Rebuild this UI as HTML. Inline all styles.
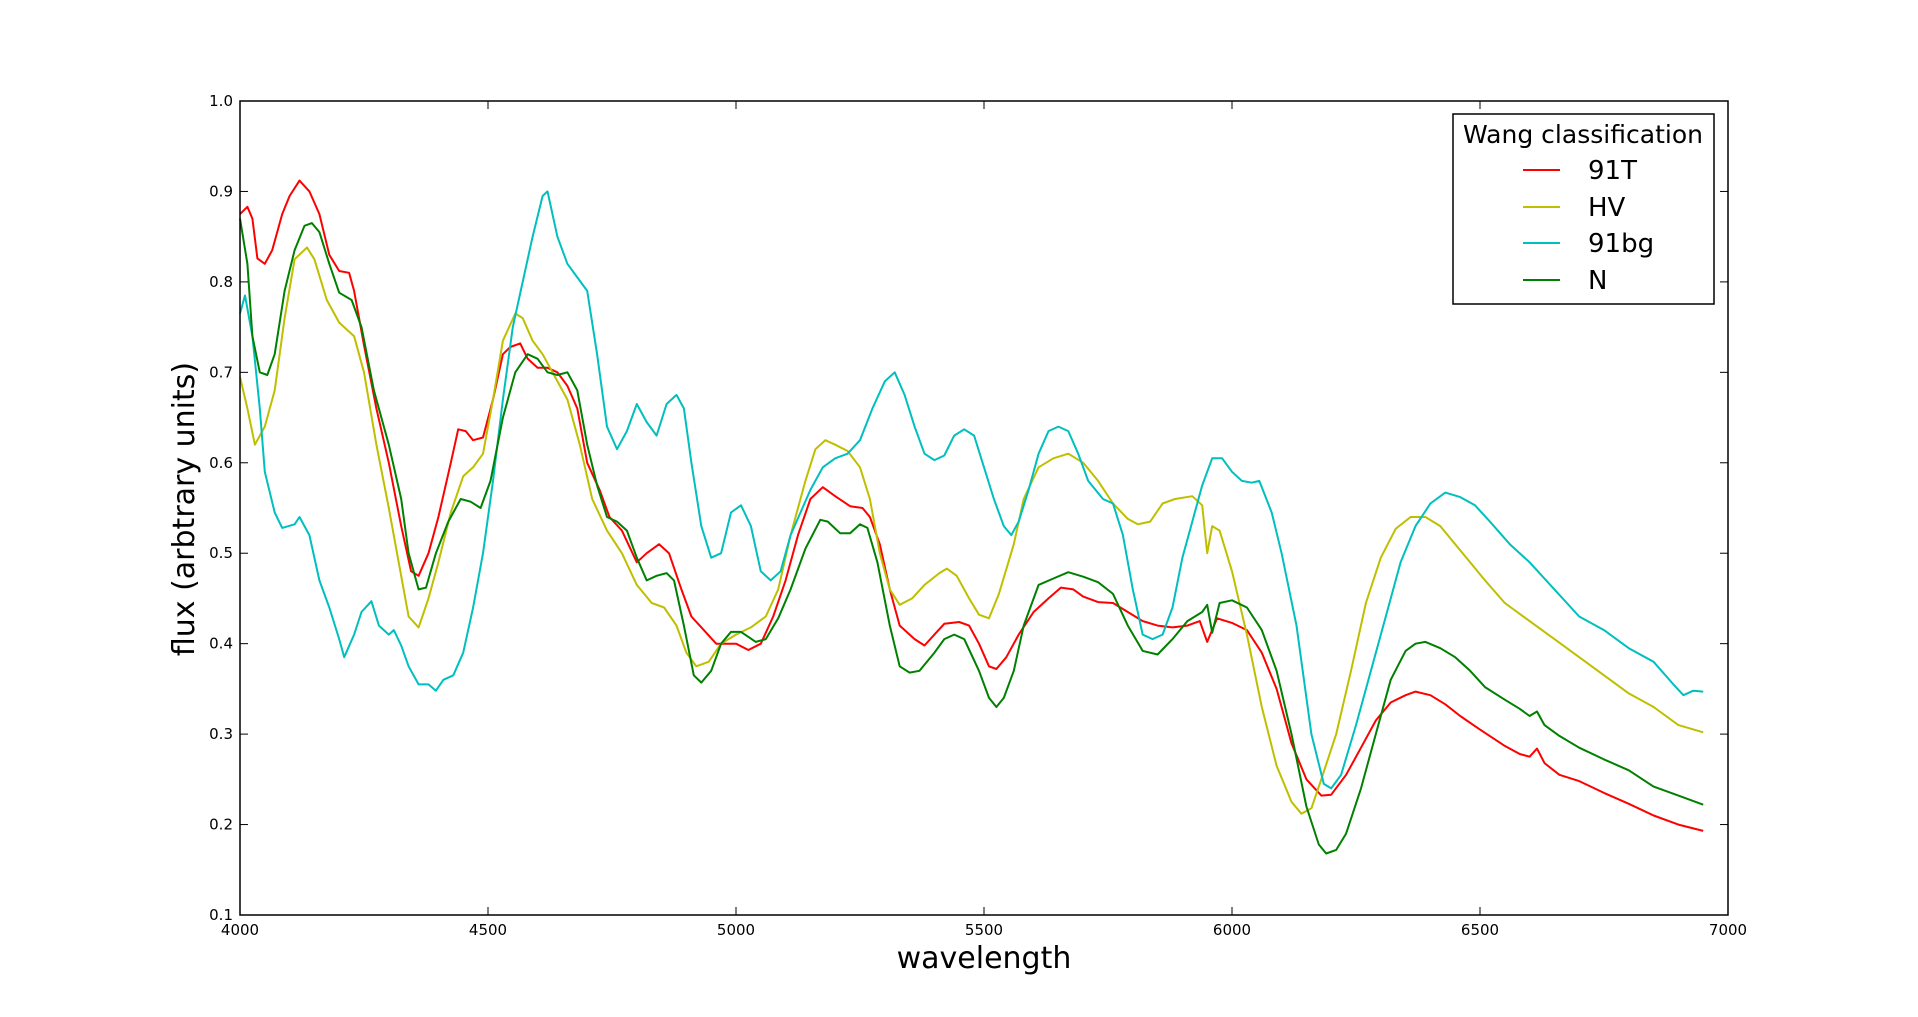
<!DOCTYPE html>
<html><head><meta charset="utf-8"><style>
html,body{margin:0;padding:0;background:#fff;}
svg{display:block;font-family:"DejaVu Sans","Liberation Sans",sans-serif;}
</style></head><body>
<svg id="chart" width="1918" height="1017" viewBox="0 0 1918 1017" xmlns="http://www.w3.org/2000/svg">
<rect x="0" y="0" width="1918" height="1017" fill="#fff"/>
<g id="marks"></g>
<g id="axes"></g>
<text x="984" y="968" font-size="30" text-anchor="middle">wavelength</text>
<text x="0" y="0" font-size="30" text-anchor="middle" transform="translate(194,509) rotate(-90)">flux (arbtrary units)</text>
<g>
<rect x="1453" y="114" width="261" height="190" fill="#fff" stroke="#000" stroke-width="1.5"/>
<text x="1463" y="143" font-size="25" textLength="240" lengthAdjust="spacingAndGlyphs">Wang classification</text>
<line x1="1523" y1="170" x2="1560" y2="170" stroke="#ff0000" stroke-width="2"/>
<text x="1588" y="179" font-size="26">91T</text>
<line x1="1523" y1="207" x2="1560" y2="207" stroke="#bfbf00" stroke-width="2"/>
<text x="1588" y="216" font-size="26">HV</text>
<line x1="1523" y1="243" x2="1560" y2="243" stroke="#00bfbf" stroke-width="2"/>
<text x="1588" y="252" font-size="26">91bg</text>
<line x1="1523" y1="280" x2="1560" y2="280" stroke="#008000" stroke-width="2"/>
<text x="1588" y="289" font-size="26">N</text>
</g>
</svg>
<script>
const xTicks = [4000,4500,5000,5500,6000,6500,7000];
const yTicks = [0.1,0.2,0.3,0.4,0.5,0.6,0.7,0.8,0.9,1.0];
const yTickLabels = ["0.1","0.2","0.3","0.4","0.5","0.6","0.7","0.8","0.9","1.0"];
const wl91T = [4000,4015,4025,4035,4050,4065,4085,4100,4120,4140,4160,4180,4200,4220,4230,4250,4275,4300,4325,4345,4360,4380,4400,4425,4440,4455,4470,4490,4510,4530,4545,4565,4580,4600,4620,4640,4660,4680,4700,4725,4745,4770,4800,4820,4845,4865,4890,4910,4935,4960,4985,5000,5025,5050,5075,5100,5125,5150,5175,5200,5230,5255,5270,5290,5310,5330,5360,5380,5400,5420,5450,5470,5490,5510,5525,5545,5570,5600,5630,5655,5680,5700,5730,5760,5790,5820,5850,5880,5910,5935,5950,5970,6000,6030,6060,6090,6120,6150,6180,6200,6230,6260,6290,6320,6350,6370,6400,6430,6460,6500,6550,6580,6600,6615,6630,6660,6700,6750,6800,6850,6900,6950];
const flux91T = [0.875,0.883,0.87,0.826,0.82,0.835,0.875,0.895,0.912,0.9,0.875,0.83,0.812,0.81,0.79,0.73,0.66,0.6,0.53,0.48,0.475,0.5,0.54,0.6,0.637,0.635,0.625,0.628,0.67,0.72,0.728,0.732,0.715,0.705,0.705,0.70,0.685,0.66,0.6,0.57,0.54,0.525,0.49,0.5,0.51,0.5,0.46,0.43,0.415,0.40,0.40,0.40,0.393,0.40,0.43,0.47,0.52,0.56,0.573,0.563,0.552,0.55,0.54,0.51,0.46,0.42,0.405,0.398,0.41,0.422,0.424,0.42,0.40,0.375,0.372,0.385,0.41,0.435,0.45,0.462,0.46,0.452,0.446,0.445,0.435,0.425,0.42,0.418,0.42,0.425,0.402,0.428,0.423,0.415,0.39,0.35,0.29,0.25,0.232,0.233,0.255,0.285,0.315,0.335,0.343,0.347,0.343,0.333,0.32,0.305,0.287,0.278,0.275,0.284,0.268,0.255,0.248,0.235,0.223,0.21,0.2,0.193];
const wlHV = [4000,4015,4030,4050,4070,4090,4110,4135,4150,4175,4200,4230,4250,4275,4300,4320,4340,4360,4380,4400,4425,4450,4470,4490,4510,4530,4555,4570,4590,4610,4630,4660,4685,4710,4740,4770,4800,4830,4855,4880,4900,4920,4945,4970,5000,5030,5060,5085,5110,5140,5160,5180,5200,5225,5250,5270,5290,5310,5330,5355,5380,5410,5425,5445,5470,5490,5510,5530,5560,5580,5610,5640,5670,5700,5730,5760,5790,5810,5835,5860,5885,5920,5940,5950,5960,5975,6000,6030,6060,6090,6120,6140,6160,6180,6210,6240,6270,6300,6330,6360,6390,6420,6450,6480,6510,6550,6600,6650,6700,6750,6800,6850,6900,6950];
const fluxHV = [0.695,0.66,0.62,0.64,0.68,0.76,0.825,0.838,0.825,0.78,0.755,0.74,0.7,0.62,0.55,0.49,0.43,0.418,0.45,0.49,0.545,0.585,0.595,0.61,0.67,0.735,0.765,0.76,0.735,0.72,0.70,0.67,0.62,0.56,0.525,0.5,0.465,0.445,0.44,0.42,0.39,0.375,0.38,0.4,0.41,0.418,0.43,0.46,0.52,0.58,0.615,0.625,0.62,0.613,0.595,0.56,0.5,0.46,0.443,0.45,0.465,0.478,0.483,0.475,0.45,0.432,0.428,0.455,0.51,0.56,0.595,0.605,0.61,0.6,0.58,0.555,0.538,0.532,0.535,0.555,0.56,0.563,0.553,0.5,0.53,0.525,0.48,0.41,0.33,0.265,0.225,0.212,0.218,0.25,0.3,0.37,0.445,0.495,0.527,0.54,0.54,0.53,0.51,0.49,0.47,0.445,0.425,0.405,0.385,0.365,0.345,0.33,0.31,0.302];
const wl91bg = [4000,4010,4025,4040,4050,4070,4085,4110,4120,4140,4160,4180,4200,4210,4230,4245,4265,4280,4300,4310,4325,4340,4360,4380,4395,4410,4430,4450,4470,4490,4510,4530,4550,4570,4590,4610,4620,4640,4660,4680,4700,4720,4740,4760,4780,4800,4820,4840,4860,4880,4895,4910,4930,4950,4970,4990,5010,5030,5050,5070,5090,5110,5130,5150,5175,5200,5225,5250,5275,5300,5320,5340,5360,5380,5400,5420,5440,5460,5480,5500,5520,5540,5555,5570,5590,5610,5630,5650,5670,5690,5710,5740,5760,5780,5800,5820,5840,5860,5880,5900,5920,5940,5960,5980,6000,6020,6040,6055,6080,6100,6130,6160,6185,6200,6220,6250,6280,6310,6340,6370,6400,6430,6460,6490,6520,6560,6600,6650,6700,6750,6800,6850,6890,6910,6930,6950];
const flux91bg = [0.765,0.785,0.74,0.66,0.59,0.545,0.528,0.532,0.54,0.52,0.47,0.44,0.405,0.385,0.41,0.435,0.447,0.42,0.41,0.415,0.398,0.375,0.355,0.355,0.348,0.36,0.365,0.39,0.44,0.5,0.58,0.67,0.75,0.8,0.85,0.895,0.9,0.85,0.82,0.805,0.79,0.72,0.64,0.615,0.635,0.665,0.645,0.63,0.665,0.675,0.66,0.6,0.53,0.495,0.5,0.545,0.553,0.53,0.48,0.47,0.48,0.52,0.545,0.57,0.595,0.605,0.61,0.625,0.66,0.69,0.7,0.675,0.64,0.61,0.603,0.608,0.63,0.637,0.63,0.595,0.56,0.53,0.52,0.535,0.57,0.61,0.635,0.64,0.635,0.61,0.58,0.56,0.555,0.52,0.46,0.41,0.405,0.41,0.44,0.495,0.535,0.575,0.605,0.605,0.59,0.58,0.578,0.58,0.545,0.5,0.42,0.3,0.245,0.24,0.255,0.31,0.37,0.43,0.49,0.53,0.555,0.567,0.562,0.553,0.535,0.51,0.49,0.46,0.43,0.415,0.395,0.38,0.355,0.343,0.348,0.347];
const wlN = [4000,4015,4025,4040,4055,4070,4090,4110,4130,4145,4160,4180,4200,4225,4245,4270,4300,4325,4340,4360,4375,4395,4420,4445,4465,4485,4505,4530,4555,4580,4600,4620,4640,4660,4680,4700,4720,4740,4760,4780,4800,4820,4840,4860,4875,4895,4915,4930,4950,4970,4990,5010,5040,5060,5085,5110,5140,5170,5185,5210,5230,5250,5265,5285,5310,5330,5350,5370,5400,5420,5440,5460,5490,5510,5525,5540,5560,5580,5610,5640,5670,5700,5730,5760,5790,5820,5850,5880,5910,5940,5950,5960,5975,6000,6030,6060,6090,6120,6150,6175,6190,6210,6230,6260,6290,6320,6350,6370,6390,6420,6450,6480,6510,6550,6580,6600,6615,6630,6660,6700,6750,6800,6850,6900,6950];
const fluxN = [0.87,0.82,0.74,0.7,0.697,0.72,0.79,0.835,0.862,0.865,0.855,0.82,0.788,0.78,0.75,0.68,0.62,0.56,0.5,0.46,0.462,0.5,0.535,0.56,0.557,0.55,0.58,0.65,0.7,0.72,0.715,0.7,0.697,0.7,0.68,0.62,0.575,0.54,0.535,0.525,0.495,0.47,0.475,0.478,0.47,0.42,0.365,0.357,0.37,0.4,0.413,0.413,0.402,0.405,0.428,0.46,0.505,0.537,0.535,0.522,0.522,0.532,0.528,0.49,0.42,0.375,0.368,0.37,0.39,0.405,0.41,0.405,0.37,0.34,0.33,0.34,0.37,0.42,0.465,0.472,0.479,0.474,0.468,0.455,0.42,0.392,0.388,0.405,0.425,0.435,0.443,0.412,0.445,0.448,0.44,0.415,0.37,0.3,0.22,0.178,0.168,0.172,0.19,0.24,0.3,0.36,0.392,0.4,0.402,0.395,0.385,0.37,0.352,0.338,0.328,0.32,0.325,0.31,0.298,0.285,0.272,0.26,0.242,0.232,0.222];

const NS = "http://www.w3.org/2000/svg";
const L = 240, R = 1728, T = 101, B = 915;
function xScale(v){ return L + (v - 4000) / 3000 * (R - L); }
function yScale(v){ return B - (v - 0.1) / 0.9 * (B - T); }
function mk(tag, attrs, parent){ const e = document.createElementNS(NS, tag); for (const k in attrs) e.setAttribute(k, attrs[k]); parent.appendChild(e); return e; }

const marks = document.getElementById('marks');
function drawSeries(wl, fl, color, name){
  let d = '';
  for (let i = 0; i < wl.length; i++) d += (i ? 'L' : 'M') + xScale(wl[i]).toFixed(1) + ' ' + yScale(fl[i]).toFixed(1);
  const p = mk('path', {d: d, fill: 'none', stroke: color, 'stroke-width': 2, 'stroke-linejoin': 'round'}, marks);
  
  
}
drawSeries(wl91T, flux91T, '#ff0000', 'series-91t');
drawSeries(wlHV, fluxHV, '#bfbf00', 'series-hv');
drawSeries(wl91bg, flux91bg, '#00bfbf', 'series-91bg');
drawSeries(wlN, fluxN, '#008000', 'series-n');

const axes = document.getElementById('axes');
const frame = mk('rect', {x: L, y: T, width: R - L, height: B - T, fill: 'none', stroke: '#000', 'stroke-width': 1.5}, axes);


xTicks.forEach(v => {
  const x = xScale(v);
  mk('line', {x1: x, y1: B, x2: x, y2: B - 8, stroke: '#000', 'stroke-width': 1}, axes);
  mk('line', {x1: x, y1: T, x2: x, y2: T + 8, stroke: '#000', 'stroke-width': 1}, axes);
  const t = mk('text', {x: x, y: B + 20, 'font-size': 15, 'text-anchor': 'middle'}, axes);
  t.textContent = String(v);
  
  
});
yTicks.forEach((v, i) => {
  const y = yScale(v);
  mk('line', {x1: L, y1: y, x2: L + 8, y2: y, stroke: '#000', 'stroke-width': 1}, axes);
  mk('line', {x1: R, y1: y, x2: R - 8, y2: y, stroke: '#000', 'stroke-width': 1}, axes);
  const t = mk('text', {x: L - 7, y: y + 5, 'font-size': 15, 'text-anchor': 'end'}, axes);
  t.textContent = yTickLabels[i];
  
  
});
</script>
</body></html>
